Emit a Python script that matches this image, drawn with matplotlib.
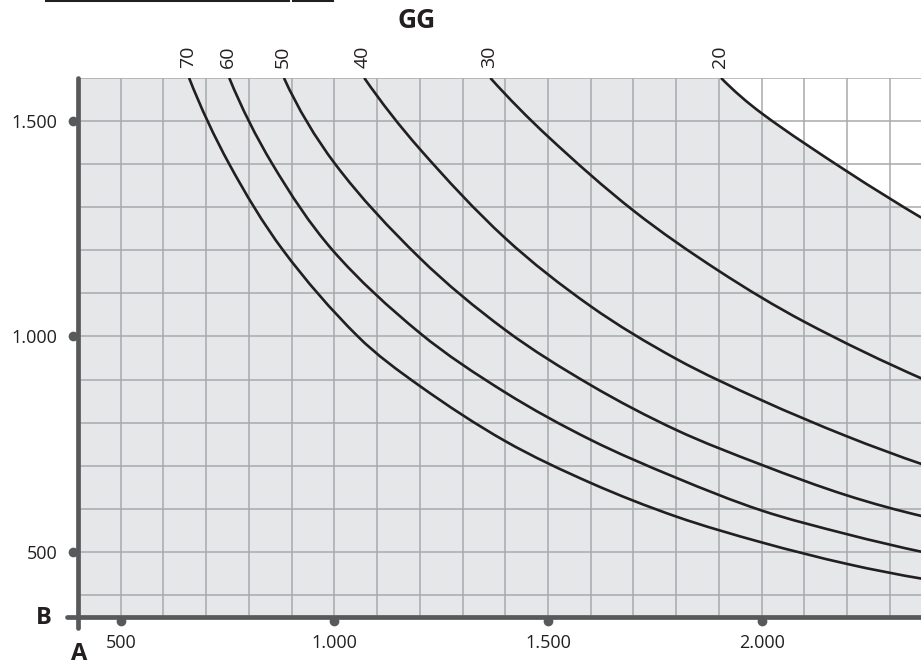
import numpy as np
import matplotlib
matplotlib.use("Agg")
import matplotlib.pyplot as plt
from matplotlib.transforms import ScaledTranslation
from matplotlib.lines import Line2D
from matplotlib.path import Path
from matplotlib.patches import PathPatch

plt.rcParams['font.family'] = ['Open Sans', 'DejaVu Sans']

# ---------------- data ----------------
curve_labels = ['70', '60', '50', '40', '30', '20']

x70 = [660, 754, 880, 1055, 1200, 1400, 1600, 1800, 2000, 2200, 2380]
y70 = [1600, 1400, 1200, 1000, 885, 757, 660, 582, 522, 472, 437]

x60 = [754, 855, 996, 1200, 1400, 1600, 1800, 2000, 2200, 2380]
y60 = [1600, 1400, 1200, 1008, 870, 760, 672, 596, 541, 499]

x50 = [882, 1002, 1200, 1400, 1600, 1800, 2000, 2200, 2380]
y50 = [1600, 1400, 1182, 1015, 887, 783, 702, 631, 582]

x40 = [1070, 1200, 1400, 1600, 1800, 2000, 2200, 2380]
y40 = [1600, 1435, 1228, 1070, 948, 852, 768, 702]

x30 = [1365, 1500, 1700, 1900, 2100, 2380]
y30 = [1600, 1464, 1292, 1152, 1034, 900]

x20 = [1905, 2000, 2200, 2380]
y20 = [1600, 1518, 1383, 1272]

x_ticks = [500, 1000, 1500, 2000]
x_tick_labels = ['500', '1.000', '1.500', '2.000']
y_ticks = [500, 1000, 1500]
y_tick_labels = ['500', '1.000', '1.500']

title = 'GG'
x_axis_label = 'A'
y_axis_label = 'B'

# ---------------- styling ----------------
W, H, DPI = 921, 664, 100
spine_col = '#58595b'
grid_col = '#a7a9ac'
fill_col = '#e6e7e8'
ink = '#231f20'
X0, X1, Y0, Y1 = 400, 2373, 350, 1601


def smooth_verts(xs, ys):
    """Smooth (cubic Bezier) rendering through the given points."""
    P = np.column_stack([xs, ys]).astype(float)
    n = len(P)
    T = np.zeros_like(P)
    for i in range(1, n - 1):
        d = P[i + 1] - P[i - 1]
        T[i] = d / np.hypot(*d)
    c0 = (P[1] - P[0]) / np.hypot(*(P[1] - P[0]))
    c1 = (P[-1] - P[-2]) / np.hypot(*(P[-1] - P[-2]))
    if n > 2:
        t0 = 2 * c0 - T[1]
        t1 = 2 * c1 - T[-2]
    else:
        t0, t1 = c0, c1
    T[0] = t0 / np.hypot(*t0)
    T[-1] = t1 / np.hypot(*t1)
    verts = [P[0]]
    codes = [Path.MOVETO]
    for i in range(n - 1):
        L = np.hypot(*(P[i + 1] - P[i]))
        verts += [P[i] + T[i] * L / 3, P[i + 1] - T[i + 1] * L / 3, P[i + 1]]
        codes += [Path.CURVE4] * 3
    return verts, codes


fig = plt.figure(figsize=(W / DPI, H / DPI), dpi=DPI)
ax_l, ax_r, ax_top, ax_bot = 78, 921, 77.5, 616.5
ax = fig.add_axes([ax_l / W, 1 - ax_bot / H, (ax_r - ax_l) / W, (ax_bot - ax_top) / H])
ax.set_xlim(X0, X1)
ax.set_ylim(Y0, Y1)
ax.set_facecolor('white')

# shaded region below the "20" curve
v, c = smooth_verts(x20, y20)
v = [(X0 - 10, Y1 + 5), (x20[0], Y1 + 5)] + v[1:] + [(x20[-1], Y0 - 10), (X0 - 10, Y0 - 10), (X0 - 10, Y1 + 5)]
c = [Path.MOVETO, Path.LINETO] + c[1:] + [Path.LINETO, Path.LINETO, Path.CLOSEPOLY]
ax.add_patch(PathPatch(Path(v, c), fc=fill_col, ec='none', lw=0, zorder=1))

# grid
ax.set_xticks(x_ticks)
ax.set_xticklabels(x_tick_labels)
ax.set_yticks(y_ticks)
ax.set_yticklabels(y_tick_labels)
ax.set_xticks(np.arange(500, 2400, 100), minor=True)
ax.set_yticks(np.arange(400, 1700, 100), minor=True)
ax.set_axisbelow('line')
ax.grid(True, which='both', color=grid_col, lw=1.1)
ax.tick_params(which='both', length=0)
ax.tick_params(axis='y', pad=15, labelsize=13, labelcolor=ink)
ax.tick_params(axis='x', pad=12.5, labelsize=13, labelcolor=ink)
for s in ax.spines.values():
    s.set_visible(False)

# curves
curves = [(x70, y70), (x60, y60), (x50, y50), (x40, y40), (x30, y30), (x20, y20)]
for (cx, cy), lab in zip(curves, curve_labels):
    v, c = smooth_verts(cx, cy)
    ax.add_patch(PathPatch(Path(v, c), fill=False, ec=ink, lw=1.9, zorder=3,
                           capstyle='butt'))
    ax.annotate(lab, xy=(cx[0], Y1), xytext=(-1, 7), textcoords='offset points',
                rotation=90, ha='center', va='bottom', fontsize=14, color=ink,
                annotation_clip=False)

# custom thick axes lines
lw_sp = 3.4
ax.add_line(Line2D([0, 0], [1.0, -0.021], transform=ax.transAxes, color=spine_col,
                   lw=lw_sp, solid_capstyle='round', clip_on=False, zorder=5))
ax.add_line(Line2D([-0.013, 1.0], [0, 0], transform=ax.transAxes, color=spine_col,
                   lw=lw_sp, solid_capstyle='round', clip_on=False, zorder=5))

# tick dots
offy = ScaledTranslation(-5 / DPI, 0, fig.dpi_scale_trans)
ax.plot([0] * len(y_ticks), y_ticks, 'o', ms=7, color=spine_col, mec='none',
        transform=ax.get_yaxis_transform() + offy, clip_on=False, zorder=5)
offx = ScaledTranslation(0, -4 / DPI, fig.dpi_scale_trans)
ax.plot(x_ticks, [0] * len(x_ticks), 'o', ms=7, color=spine_col, mec='none',
        transform=ax.get_xaxis_transform() + offx, clip_on=False, zorder=5)

# texts
fig.text(417 / W, 1 - 21 / H, title, fontsize=19, fontweight='bold', color=ink,
         ha='center', va='center')
fig.text(43.5 / W, 1 - 618.5 / H, y_axis_label, fontsize=17, fontweight='bold',
         color=ink, ha='center', va='center')
fig.text(79 / W, 1 - 653.5 / H, x_axis_label, fontsize=17, fontweight='bold',
         color=ink, ha='center', va='center')

# header rule at top left (partially cut off)
fig.add_artist(Line2D([45.7 / W, 288 / W], [1 - 0.3 / H, 1 - 0.3 / H],
                      transform=fig.transFigure, color=ink, lw=2.2))
fig.add_artist(Line2D([293 / W, 332 / W], [1 - 0.3 / H, 1 - 0.3 / H],
                      transform=fig.transFigure, color=ink, lw=2.2))

fig.savefig('out.png', dpi=DPI)
